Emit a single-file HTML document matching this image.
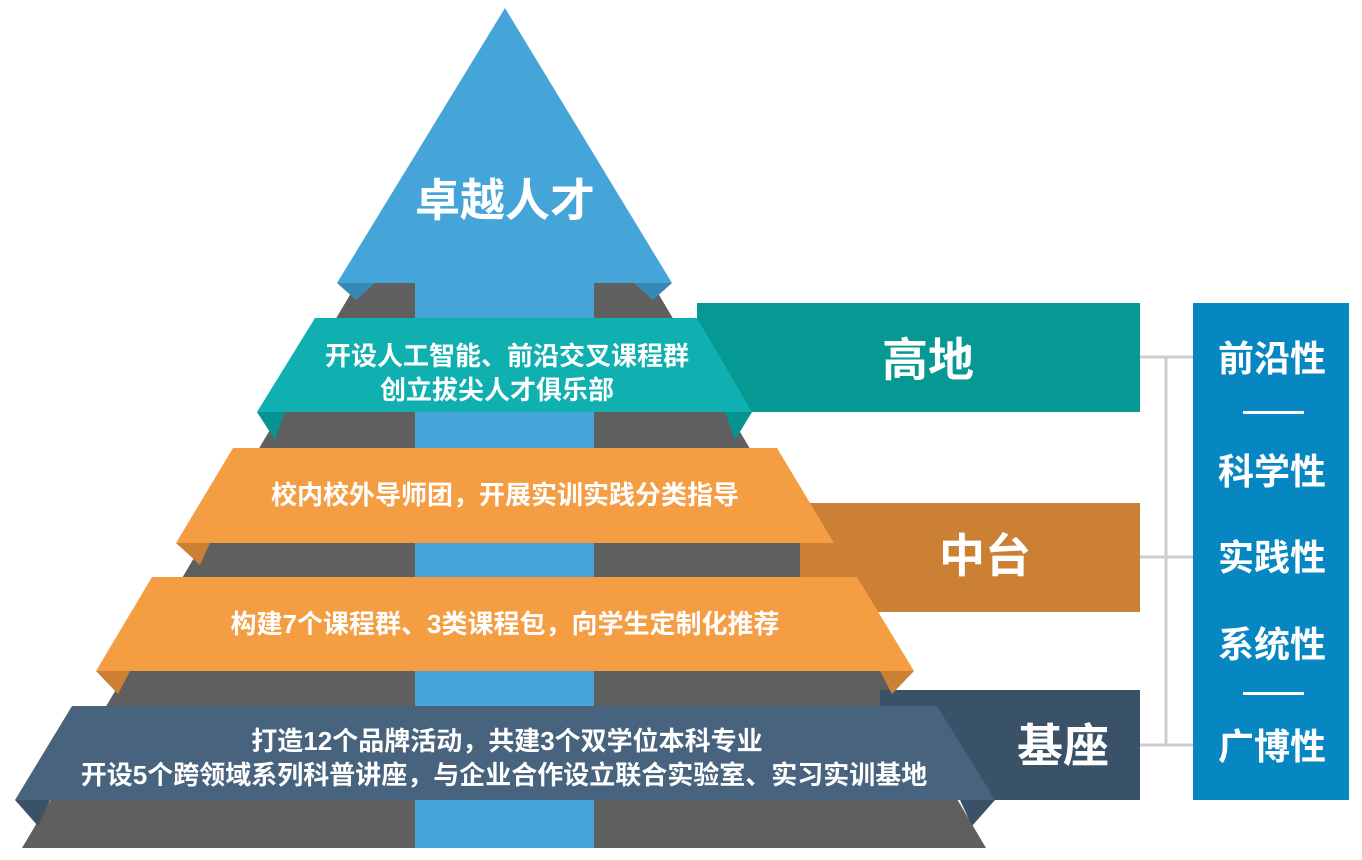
<!DOCTYPE html>
<html><head><meta charset="utf-8"><style>
body{margin:0;background:#fff;}
svg text{font-family:"Liberation Sans","Noto Sans CJK SC",sans-serif;font-weight:bold;fill:#fff;text-anchor:middle;}
</style></head><body>
<svg width="1362" height="855" viewBox="0 0 1362 855" xmlns="http://www.w3.org/2000/svg">
<rect width="1362" height="855" fill="#fff"/>
<polygon points="357,283 652,283 986,848 22,848" fill="#5f5f5f"/>
<rect x="415" y="283" width="179" height="565" fill="#45a5d8"/>
<polygon points="337,283 356,300 375,283" fill="#3788b5"/>
<polygon points="634,283 653,300 672,283" fill="#3788b5"/>
<polygon points="505,8 672,283 337,283" fill="#45a5d8"/>
<text x="505" y="216" font-size="45">卓越人才</text>
<rect x="697" y="303" width="443" height="109" fill="#069893"/>
<rect x="800" y="503" width="340" height="109" fill="#cc8034"/>
<rect x="880" y="690" width="260" height="110" fill="#3a5268"/>
<polygon points="257,412 275,440 285,412" fill="#079490"/>
<polygon points="725,412 735,440 752,412" fill="#079490"/>
<polygon points="315,318 697,318 752,412 257,412" fill="#11b0b0"/>
<text x="507" y="365" font-size="26">开设人工智能、前沿交叉课程群</text>
<text x="497" y="399" font-size="26">创立拔尖人才俱乐部</text>
<polygon points="176,543 200,565 210,543" fill="#cc8034"/>
<polygon points="800,543 815,565 834,543" fill="#cc8034"/>
<polygon points="233,448 777,448 834,543 176,543" fill="#f59d42"/>
<text x="505" y="504" font-size="26">校内校外导师团，开展实训实践分类指导</text>
<polygon points="96,671 118,694 130,671" fill="#cc8034"/>
<polygon points="880,671 892,694 914,671" fill="#cc8034"/>
<polygon points="152,577 857,577 914,671 96,671" fill="#f59d42"/>
<text x="505" y="633" font-size="26">构建7个课程群、3类课程包，向学生定制化推荐</text>
<polygon points="15,800 38,826 50,800" fill="#3a5268"/>
<polygon points="960,800 972,826 995,800" fill="#3a5268"/>
<polygon points="72,706 937,706 995,800 15,800" fill="#48637d"/>
<text x="507" y="750" font-size="26">打造12个品牌活动，共建3个双学位本科专业</text>
<text x="504" y="784" font-size="26">开设5个跨领域系列科普讲座，与企业合作设立联合实验室、实习实训基地</text>
<text x="928" y="376" font-size="46">高地</text>
<text x="985" y="572" font-size="46">中台</text>
<text x="1063" y="762" font-size="46">基座</text>
<g stroke="#cccccc" stroke-width="3" fill="none">
<line x1="1140" y1="357" x2="1193" y2="357"/>
<line x1="1140" y1="557" x2="1193" y2="557"/>
<line x1="1140" y1="745" x2="1193" y2="745"/>
<line x1="1166" y1="357" x2="1166" y2="745"/>
</g>
<rect x="1193" y="303" width="156" height="497" fill="#0787c1"/>
<text x="1272" y="371" font-size="36">前沿性</text>
<rect x="1243" y="411" width="61" height="3" fill="#fff"/>
<text x="1272" y="484" font-size="36">科学性</text>
<text x="1272" y="570" font-size="36">实践性</text>
<text x="1272" y="657" font-size="36">系统性</text>
<rect x="1243" y="692" width="61" height="3" fill="#fff"/>
<text x="1272" y="759" font-size="36">广博性</text>
</svg>
</body></html>
